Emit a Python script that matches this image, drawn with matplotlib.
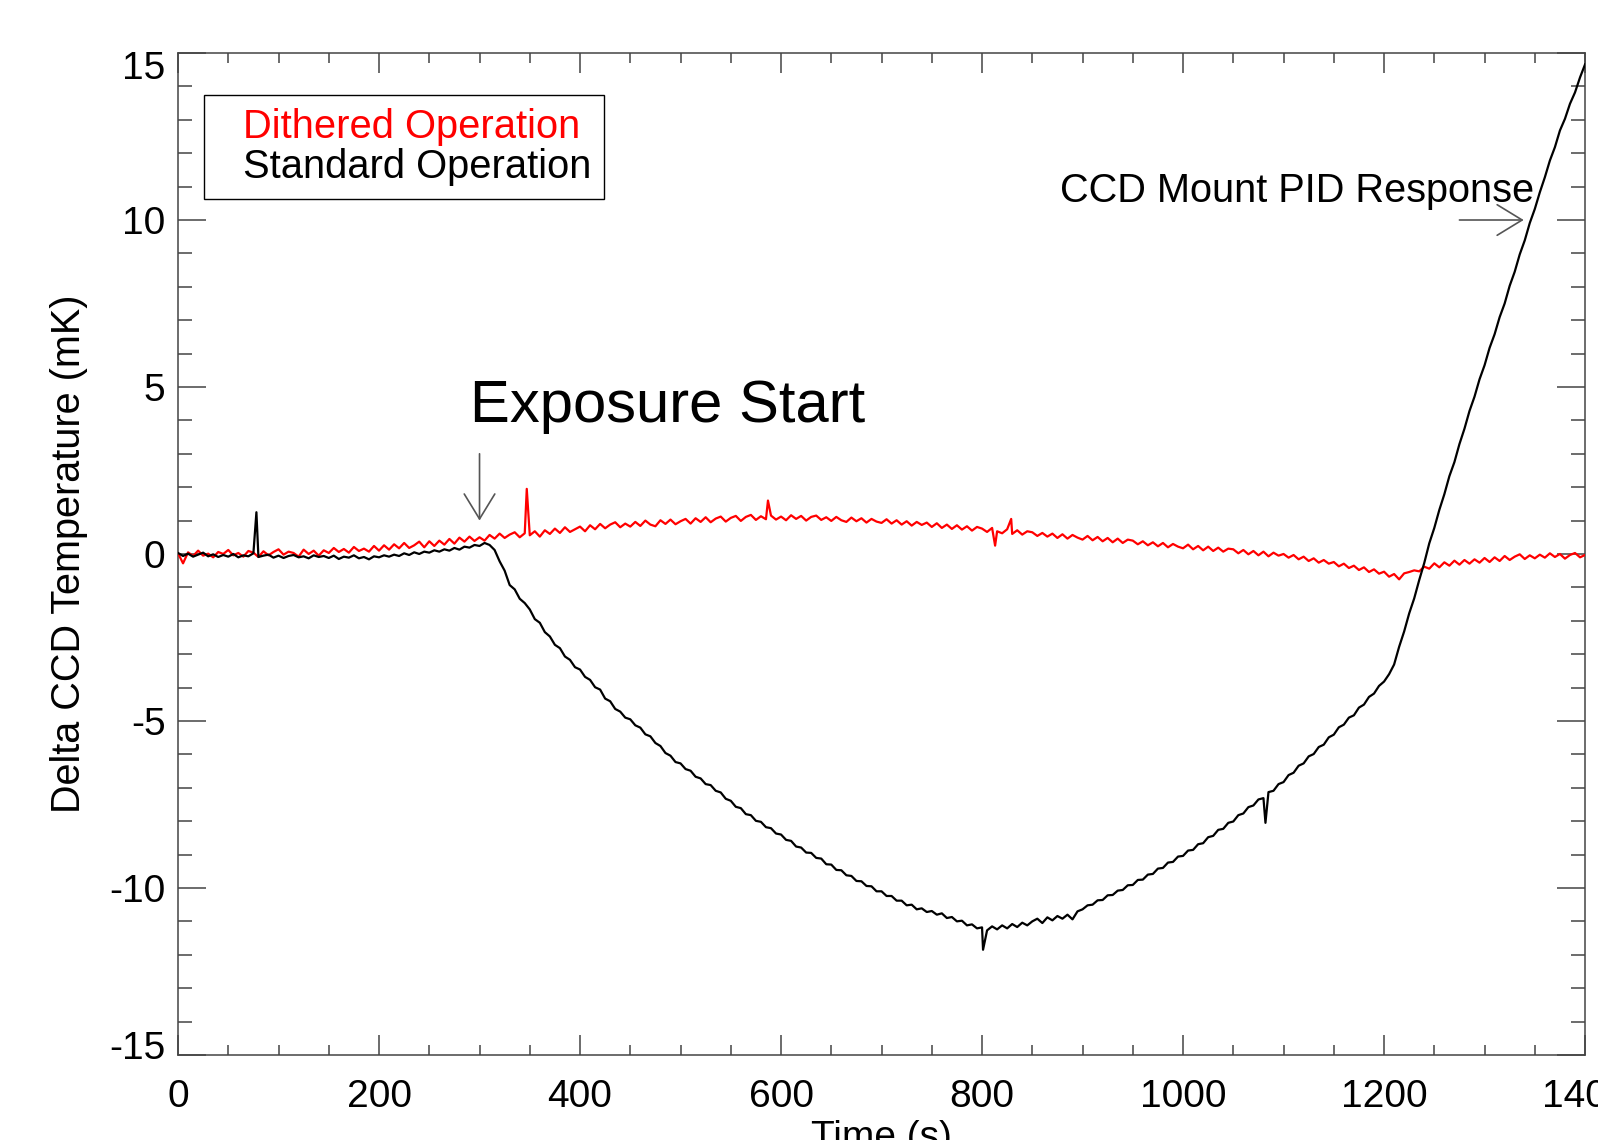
import numpy as np
import matplotlib.pyplot as plt
import matplotlib.transforms as mtransforms
from matplotlib.lines import Line2D
from matplotlib.ticker import MultipleLocator

# time axis, one reading every 5 s
time_s = np.arange(0, 1401, 5)

# Dithered operation (red), mK
red_dithered = [
    0.02, -0.28, 0.05, -0.06, 0.10, -0.05, 0.01, -0.10, 0.06, 0.00,
    0.12, -0.04, 0.03, -0.08, 0.09, 0.04, -0.09, 0.08, -0.04, 0.06,
    0.14, -0.02, 0.07, 0.03, -0.08, 0.13, 0.00, 0.10, -0.05, 0.11,
    0.03, 0.18, 0.06, 0.15, 0.04, 0.21, 0.09, 0.16, 0.07, 0.24,
    0.10, 0.26, 0.13, 0.29, 0.17, 0.33, 0.18, 0.26, 0.37, 0.20,
    0.38, 0.24, 0.40, 0.28, 0.45, 0.31, 0.49, 0.37, 0.52, 0.39,
    0.50, 0.40, 0.57, 0.46, 0.61, 0.48, 0.58, 0.65, 0.50, 0.62,
    0.56, 0.68, 0.52, 0.71, 0.60, 0.76, 0.63, 0.80, 0.66, 0.74,
    0.82, 0.68, 0.86, 0.74, 0.90, 0.77, 0.88, 0.95, 0.80, 0.91,
    0.82, 0.96, 0.84, 1.00, 0.88, 0.83, 1.01, 0.90, 1.03, 0.89,
    0.98, 1.05, 0.91, 1.07, 0.96, 1.10, 0.95, 1.06, 1.12, 0.97,
    1.08, 1.14, 0.99, 1.11, 1.17, 1.02, 1.13, 1.04, 1.15, 1.03,
    1.12, 1.01, 1.16, 1.05, 1.14, 1.00, 1.11, 1.15, 1.02, 1.10,
    0.99, 1.11, 1.01, 0.96, 1.09, 0.98, 1.07, 0.94, 1.05, 0.97,
    0.93, 1.04, 0.91, 1.01, 0.88, 0.98, 0.85, 0.96, 0.87, 0.94,
    0.81, 0.92, 0.78, 0.88, 0.75, 0.86, 0.73, 0.83, 0.70, 0.81,
    0.76, 0.66, 0.78, 0.68, 0.62, 0.74, 0.60, 0.71, 0.58, 0.68,
    0.65, 0.54, 0.63, 0.52, 0.61, 0.48, 0.59, 0.46, 0.57, 0.49,
    0.43, 0.54, 0.41, 0.51, 0.38, 0.48, 0.35, 0.46, 0.33, 0.43,
    0.40, 0.29, 0.38, 0.26, 0.35, 0.23, 0.33, 0.20, 0.30, 0.22,
    0.17, 0.28, 0.14, 0.24, 0.11, 0.22, 0.09, 0.19, 0.07, 0.16,
    0.14, 0.02, 0.12, -0.01, 0.09, -0.04, 0.07, -0.07, 0.04, -0.05,
    0.00, -0.11, -0.03, -0.16, -0.08, -0.21, -0.13, -0.26, -0.18, -0.29,
    -0.24, -0.37, -0.29, -0.42, -0.35, -0.48, -0.40, -0.54, -0.46, -0.59,
    -0.53, -0.68, -0.60, -0.76, -0.58, -0.54, -0.49, -0.52, -0.38, -0.44,
    -0.28, -0.40, -0.25, -0.35, -0.20, -0.32, -0.18, -0.29, -0.16, -0.26,
    -0.12, -0.24, -0.10, -0.21, -0.06, -0.18, -0.08, -0.01, -0.15, -0.04,
    -0.13, -0.02, -0.11, 0.02, -0.09, 0.00, -0.14, -0.03, 0.03, -0.10,
    -0.03]

# Standard operation (black), mK
black_standard = [
    0.03, -0.06, 0.01, -0.08, -0.02, 0.04, -0.07, -0.01, -0.09, -0.03,
    -0.08, 0.00, -0.10, -0.04, -0.07, 0.02, -0.09, -0.05, -0.02, -0.11,
    -0.05, -0.12, -0.06, -0.03, -0.10, -0.07, -0.13, -0.04, -0.09, -0.06,
    -0.12, -0.05, -0.15, -0.08, -0.11, -0.04, -0.13, -0.09, -0.16, -0.07,
    -0.10, -0.04, -0.08, -0.02, -0.06, 0.02, -0.03, 0.05, 0.00, 0.07,
    0.04, 0.11, 0.07, 0.14, 0.10, 0.18, 0.13, 0.22, 0.19, 0.27,
    0.24, 0.33, 0.27, 0.12, -0.22, -0.50, -0.93, -1.06, -1.34, -1.47,
    -1.66, -1.95, -2.06, -2.34, -2.47, -2.72, -2.82, -3.07, -3.17, -3.39,
    -3.46, -3.68, -3.77, -3.99, -4.06, -4.33, -4.41, -4.64, -4.72, -4.90,
    -4.95, -5.13, -5.20, -5.40, -5.46, -5.66, -5.75, -5.96, -6.04, -6.23,
    -6.27, -6.44, -6.49, -6.67, -6.72, -6.89, -6.92, -7.09, -7.14, -7.33,
    -7.39, -7.57, -7.61, -7.79, -7.82, -7.99, -8.02, -8.18, -8.21, -8.37,
    -8.40, -8.56, -8.59, -8.76, -8.79, -8.94, -8.95, -9.10, -9.12, -9.29,
    -9.30, -9.46, -9.47, -9.62, -9.64, -9.79, -9.80, -9.94, -9.95, -10.10,
    -10.10, -10.24, -10.24, -10.38, -10.38, -10.52, -10.50, -10.64, -10.61, -10.72,
    -10.69, -10.80, -10.76, -10.90, -10.87, -11.00, -10.98, -11.12, -11.09, -11.21,
    -11.18, -11.27, -11.15, -11.24, -11.12, -11.21, -11.08, -11.17, -11.04, -11.12,
    -11.00, -10.92, -11.05, -10.88, -10.97, -10.84, -10.92, -10.80, -10.94, -10.70,
    -10.64, -10.52, -10.50, -10.37, -10.36, -10.22, -10.21, -10.08, -10.06, -9.92,
    -9.91, -9.76, -9.75, -9.60, -9.58, -9.42, -9.40, -9.24, -9.22, -9.06,
    -9.04, -8.88, -8.86, -8.69, -8.66, -8.48, -8.44, -8.26, -8.23, -8.05,
    -8.01, -7.82, -7.77, -7.58, -7.53, -7.35, -7.31, -7.13, -7.09, -6.89,
    -6.83, -6.62, -6.55, -6.34, -6.27, -6.06, -5.99, -5.78, -5.71, -5.49,
    -5.41, -5.19, -5.11, -4.90, -4.83, -4.60, -4.51, -4.28, -4.18, -3.95,
    -3.82, -3.60, -3.31, -2.78, -2.32, -1.78, -1.33, -0.78, -0.27, 0.32,
    0.78, 1.32, 1.79, 2.33, 2.75, 3.29, 3.75, 4.28, 4.71, 5.23,
    5.65, 6.17, 6.58, 7.09, 7.50, 8.03, 8.45, 8.97, 9.39, 9.91,
    10.33, 10.83, 11.28, 11.78, 12.18, 12.68, 13.03, 13.48, 13.82, 14.27,
    14.66]

# single-sample glitches
red_spike_t = [347, 587, 813, 829]
red_spike_v = [1.95, 1.60, 0.25, 1.05]
black_spike_t = [78, 801, 1082]
black_spike_v = [1.25, -11.85, -8.05]


def add_spikes(t, v, st, sv):
    tt = np.concatenate([t, st])
    vv = np.concatenate([np.asarray(v, float), sv])
    o = np.argsort(tt, kind='stable')
    return tt[o], vv[o]


t_red, v_red = add_spikes(time_s, red_dithered, red_spike_t, red_spike_v)
t_blk, v_blk = add_spikes(time_s, black_standard, black_spike_t, black_spike_v)

plt.rcParams['font.family'] = ['Liberation Sans', 'DejaVu Sans']
plt.rcParams['axes.unicode_minus'] = False
font_s = 28

fig = plt.figure(figsize=(15.98, 11.40), dpi=100)
ax = fig.add_axes([0.1114, 0.0746, 0.8805, 0.8789])

ax.plot(t_red, v_red, color='red', lw=1.6, zorder=3)
ax.plot(t_blk, v_blk, color='black', lw=1.6, zorder=4)

ax.set_xlim(0, 1400)
ax.set_ylim(-15, 15)
ax.xaxis.set_major_locator(MultipleLocator(200))
ax.xaxis.set_minor_locator(MultipleLocator(50))
ax.yaxis.set_major_locator(MultipleLocator(5))
ax.yaxis.set_minor_locator(MultipleLocator(1))

axis_col = '#444444'
for sp in ax.spines.values():
    sp.set_color(axis_col)
    sp.set_linewidth(1.1)
ax.tick_params(axis='both', which='both', direction='in', top=True, right=True,
               color=axis_col, width=1.1, labelsize=font_s)
ax.tick_params(axis='x', which='major', length=14.4, pad=17)
ax.tick_params(axis='x', which='minor', length=7.2)
ax.tick_params(axis='y', which='major', length=20, pad=9)
ax.tick_params(axis='y', which='minor', length=10)

ax.set_xlabel('Time (s)', fontsize=font_s, labelpad=4)
ax.set_ylabel('Delta CCD Temperature (mK)', fontsize=28.5, labelpad=15)

handles = [Line2D([], [], color='red', linestyle='none'),
           Line2D([], [], color='black', linestyle='none')]
leg = ax.legend(handles, ['Dithered Operation', 'Standard Operation'],
                loc='upper left', bbox_to_anchor=(0.0185, 0.958), borderaxespad=0,
                fontsize=28.7, labelcolor='linecolor', handlelength=0.65,
                handletextpad=0.0, labelspacing=0.06, borderpad=0.32,
                fancybox=False, edgecolor='black', framealpha=1)
leg.get_frame().set_linewidth(1.0)

arrow_kw = dict(arrowstyle='->,head_length=0.9,head_width=0.55', color='#555555',
                lw=1.2, mutation_scale=20, shrinkA=0, shrinkB=0)
ax.annotate('', xy=(300, 1.0), xytext=(300, 3.0), arrowprops=arrow_kw)
ax.annotate('', xy=(1339, 10.0), xytext=(1275, 10.0), arrowprops=arrow_kw)

ax.text(291, 3.95, 'Exposure Start', fontsize=43, va='baseline', ha='left')
ax.text(878, 10.55, 'CCD Mount PID Response', fontsize=28.6, va='baseline', ha='left')

# end labels sit inside the axis range, as in the original plot
fig.canvas.draw()
for tk in ax.yaxis.get_major_ticks():
    if np.isclose(tk.get_loc(), 15):
        shift = mtransforms.ScaledTranslation(0, -0.12, fig.dpi_scale_trans)
        tk.label1.set_transform(tk.label1.get_transform() + shift)
    elif np.isclose(tk.get_loc(), -15):
        shift = mtransforms.ScaledTranslation(0, 0.10, fig.dpi_scale_trans)
        tk.label1.set_transform(tk.label1.get_transform() + shift)

fig.savefig('out.png', dpi=100)
